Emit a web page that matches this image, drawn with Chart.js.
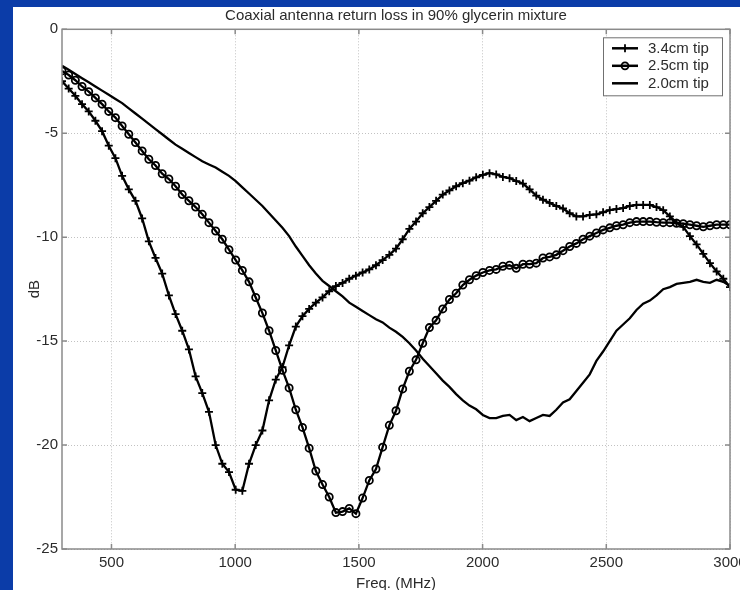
<!DOCTYPE html>
<html>
<head>
<meta charset="utf-8">
<title>Coaxial antenna return loss</title>
<script src="https://cdn.jsdelivr.net/npm/chart.js@4.4.1/dist/chart.umd.min.js"></script>
<style>
  html, body { margin: 0; padding: 0; width: 740px; height: 590px; overflow: hidden; background: #0b3ca8; }
  #wrap { position: absolute; left: 13px; top: 7px; width: 750px; height: 590px; background: #fff; }
</style>
</head>
<body>
<div id="wrap"><canvas id="rlChart" width="750" height="590"></canvas></div>
<script>
// frequency sweep, MHz
const freqMHz = [
  300, 327, 354, 381, 408, 435, 462, 489, 516, 543,
  570, 597, 624, 651, 678, 705, 732, 759, 786, 813,
  840, 867, 894, 921, 948, 975, 1002, 1029, 1056, 1083,
  1110, 1137, 1164, 1191, 1218, 1245, 1272, 1299, 1326, 1353,
  1380, 1407, 1434, 1461, 1488, 1515, 1542, 1569, 1596, 1623,
  1650, 1677, 1704, 1731, 1758, 1785, 1812, 1839, 1866, 1893,
  1920, 1947, 1974, 2001, 2028, 2055, 2082, 2109, 2136, 2163,
  2190, 2217, 2244, 2271, 2298, 2325, 2352, 2379, 2406, 2433,
  2460, 2487, 2514, 2541, 2568, 2595, 2622, 2649, 2676, 2703,
  2730, 2757, 2784, 2811, 2838, 2865, 2892, 2919, 2946, 2973,
  3000
];

// return loss (dB) per tip length
const tip34 = [
  -2.5, -2.85, -3.2, -3.6, -3.95, -4.4, -4.9, -5.6, -6.2, -7.05,
  -7.7, -8.25, -9.1, -10.2, -11.0, -11.75, -12.8, -13.7, -14.5, -15.4,
  -16.7, -17.5, -18.4, -20.0, -20.9, -21.3, -22.15, -22.2, -20.9, -20.0,
  -19.3, -17.85, -16.85, -16.25, -15.2, -14.3, -13.8, -13.45, -13.15, -12.9,
  -12.6, -12.35, -12.2, -12.0, -11.85, -11.7, -11.55, -11.35, -11.1, -10.85,
  -10.55, -10.1, -9.6, -9.25, -8.85, -8.55, -8.25, -7.95, -7.75, -7.55,
  -7.4, -7.28, -7.12, -7.0, -6.92, -6.98, -7.1, -7.16, -7.3, -7.42,
  -7.7, -8.0, -8.2, -8.35, -8.5, -8.62, -8.85, -9.0, -9.0, -8.93,
  -8.9, -8.8, -8.7, -8.65, -8.6, -8.5, -8.45, -8.45, -8.45, -8.55,
  -8.7, -9.0, -9.3, -9.5, -9.95, -10.35, -10.8, -11.25, -11.65, -12.0,
  -12.4
];
const tip25 = [
  -2.0, -2.2, -2.45, -2.75, -3.0, -3.3, -3.6, -3.95, -4.25, -4.65,
  -5.05, -5.45, -5.85, -6.25, -6.55, -6.95, -7.2, -7.55, -7.95, -8.25,
  -8.55, -8.9, -9.3, -9.7, -10.1, -10.6, -11.1, -11.6, -12.15, -12.9,
  -13.65, -14.5, -15.45, -16.4, -17.25, -18.3, -19.15, -20.15, -21.25, -21.9,
  -22.5, -23.25, -23.2, -23.05, -23.3, -22.55, -21.7, -21.15, -20.1, -19.05,
  -18.35, -17.3, -16.45, -15.9, -15.1, -14.35, -14.0, -13.45, -13.0, -12.7,
  -12.3, -12.05, -11.85, -11.7, -11.6, -11.55, -11.4, -11.35, -11.5, -11.3,
  -11.3, -11.25, -11.0, -10.95, -10.85, -10.65, -10.45, -10.3, -10.1, -9.95,
  -9.8, -9.65, -9.55, -9.45, -9.4, -9.3, -9.25, -9.25, -9.25, -9.28,
  -9.3, -9.3, -9.33, -9.35, -9.4, -9.45, -9.5, -9.45, -9.4, -9.4,
  -9.4
];
const tip20 = [
  -1.75, -1.95, -2.15, -2.35, -2.55, -2.75, -2.95, -3.15, -3.35, -3.55,
  -3.8, -4.05, -4.3, -4.55, -4.8, -5.05, -5.3, -5.55, -5.75, -5.95,
  -6.15, -6.35, -6.5, -6.65, -6.85, -7.05, -7.3, -7.6, -7.9, -8.2,
  -8.5, -8.85, -9.2, -9.55, -9.95, -10.45, -10.9, -11.35, -11.75, -12.1,
  -12.35, -12.6, -12.85, -13.15, -13.35, -13.55, -13.75, -13.95, -14.1, -14.35,
  -14.55, -14.8, -15.1, -15.45, -15.85, -16.2, -16.55, -16.9, -17.2, -17.55,
  -17.85, -18.1, -18.28, -18.55, -18.7, -18.7, -18.6, -18.55, -18.8, -18.65,
  -18.85, -18.7, -18.55, -18.6, -18.3, -17.95, -17.8, -17.4, -17.0, -16.6,
  -15.95, -15.5, -15.0, -14.5, -14.2, -13.9, -13.5, -13.2, -13.05, -12.8,
  -12.5, -12.4, -12.25, -12.2, -12.15, -12.05, -12.15, -12.2, -12.05, -12.15,
  -12.35
];

const seriesNames = ['3.4cm tip', '2.5cm tip', '2.0cm tip'];
const xTickValues = [500, 1000, 1500, 2000, 2500, 3000];
const yTickValues = [0, -5, -10, -15, -20, -25];

const FONT = '"Liberation Sans", Arial, Helvetica, sans-serif';
const TEXT = '#2b2b2b';

function pairs(ys) {
  return freqMHz.map((f, i) => ({ x: f, y: ys[i] }));
}

// box around the axes plus short inward ticks on all four sides
const axesFrame = {
  id: 'axesFrame',
  afterDatasetsDraw(chart) {
    const { ctx, chartArea: a, scales } = chart;
    ctx.save();
    ctx.strokeStyle = '#8a8a8a';
    ctx.lineWidth = 1.5;
    ctx.strokeRect(a.left, a.top, a.right - a.left, a.bottom - a.top);
    ctx.beginPath();
    xTickValues.forEach(v => {
      const px = scales.x.getPixelForValue(v);
      ctx.moveTo(px, a.bottom); ctx.lineTo(px, a.bottom - 5);
      ctx.moveTo(px, a.top); ctx.lineTo(px, a.top + 5);
    });
    yTickValues.forEach(v => {
      const py = scales.y.getPixelForValue(v);
      ctx.moveTo(a.left, py); ctx.lineTo(a.left + 5, py);
      ctx.moveTo(a.right, py); ctx.lineTo(a.right - 5, py);
    });
    ctx.stroke();
    ctx.restore();
  }
};

// boxed legend in the upper right corner of the axes
const cornerLegend = {
  id: 'cornerLegend',
  afterDraw(chart) {
    const { ctx, chartArea: a } = chart;
    const w = 119, h = 58;
    const left = a.right - 8 - w, top = a.top + 8;
    ctx.save();
    ctx.fillStyle = '#fff';
    ctx.fillRect(left, top, w, h);
    ctx.strokeStyle = '#707070';
    ctx.lineWidth = 1;
    ctx.strokeRect(left + 0.5, top + 0.5, w, h);
    chart.data.datasets.forEach((ds, i) => {
      const y = top + 11 + i * 17.5;
      const cx = left + 22;
      ctx.strokeStyle = '#000';
      ctx.lineWidth = 2.5;
      ctx.beginPath();
      ctx.moveTo(left + 9, y); ctx.lineTo(left + 35, y);
      ctx.stroke();
      ctx.lineWidth = 1.8;
      if (ds.pointStyle === 'cross') {
        ctx.beginPath();
        ctx.moveTo(cx, y - 4); ctx.lineTo(cx, y + 4);
        ctx.stroke();
      } else if (ds.pointStyle === 'circle') {
        ctx.beginPath();
        ctx.arc(cx, y, 3.5, 0, Math.PI * 2);
        ctx.stroke();
      }
      ctx.fillStyle = TEXT;
      ctx.font = '15px ' + FONT;
      ctx.textBaseline = 'middle';
      ctx.fillText(ds.label, left + 45, y + 0.5);
    });
    ctx.restore();
  }
};

const plainTick = v => String(v);

const ctx = document.getElementById('rlChart').getContext('2d');
new Chart(ctx, {
  type: 'line',
  data: {
    datasets: [
      {
        label: seriesNames[0],
        data: pairs(tip34),
        borderColor: '#000',
        borderWidth: 2.3,
        pointStyle: 'cross',
        pointRadius: 4,
        pointBorderWidth: 1.8,
        pointBorderColor: '#000',
        tension: 0
      },
      {
        label: seriesNames[1],
        data: pairs(tip25),
        borderColor: '#000',
        borderWidth: 2.3,
        pointStyle: 'circle',
        pointRadius: 3.6,
        pointBorderWidth: 1.8,
        pointBorderColor: '#000',
        pointBackgroundColor: 'rgba(0,0,0,0)',
        tension: 0
      },
      {
        label: seriesNames[2],
        data: pairs(tip20),
        borderColor: '#000',
        borderWidth: 2.3,
        pointRadius: 0,
        tension: 0
      }
    ]
  },
  options: {
    responsive: false,
    animation: false,
    devicePixelRatio: 1,
    layout: { padding: { left: 0, right: 33, top: 0, bottom: 0 } },
    plugins: {
      legend: { display: false },
      tooltip: { enabled: false },
      title: {
        display: true,
        text: 'Coaxial antenna return loss in 90% glycerin mixture',
        fullSize: false,
        color: TEXT,
        font: { family: FONT, size: 15, weight: 'normal', lineHeight: 1.2 },
        padding: { top: 0, bottom: 4.3 }
      }
    },
    scales: {
      x: {
        type: 'linear',
        min: 300,
        max: 3000,
        afterBuildTicks: s => { s.ticks = xTickValues.map(v => ({ value: v })); },
        afterFit: s => { s.height = 48; },
        grid: { color: '#c2c2c2', lineWidth: 1, drawTicks: false },
        border: { display: false, dash: [1, 2] },
        ticks: { color: TEXT, font: { family: FONT, size: 15 }, padding: 5, maxRotation: 0, callback: plainTick },
        title: {
          display: true,
          text: 'Freq. (MHz)',
          color: TEXT,
          font: { family: FONT, size: 15 },
          padding: { top: 0, bottom: 4.5 }
        }
      },
      y: {
        min: -25,
        max: 0,
        afterBuildTicks: s => { s.ticks = yTickValues.map(v => ({ value: v })); },
        afterFit: s => { s.width = 49; },
        grid: { color: '#c2c2c2', lineWidth: 1, drawTicks: false },
        border: { display: false, dash: [1, 2] },
        ticks: { color: TEXT, font: { family: FONT, size: 15 }, padding: 4, callback: plainTick },
        title: {
          display: true,
          text: 'dB',
          color: TEXT,
          font: { family: FONT, size: 15 },
          padding: { top: 13, bottom: 0 }
        }
      }
    }
  },
  plugins: [axesFrame, cornerLegend]
});
</script>
</body>
</html>
